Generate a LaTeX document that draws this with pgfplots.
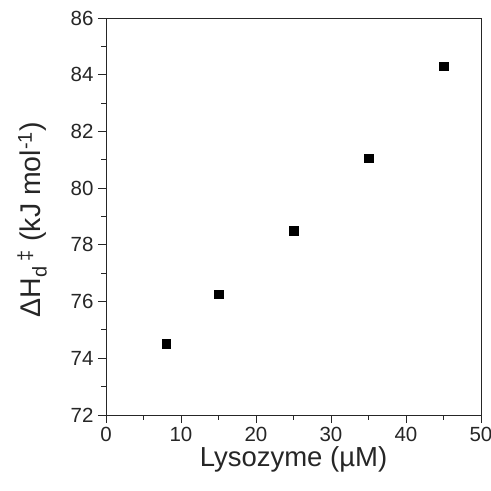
\documentclass[border=0pt]{standalone}
\usepackage{fontspec}
\setmainfont{Liberation Sans}
\usepackage{pgfplots}
\pgfplotsset{compat=1.18}
\begin{document}
\begin{tikzpicture}
\begin{axis}[
  scale only axis,
  width=375bp, height=397bp,
  xmin=0, xmax=50, ymin=72, ymax=86,
  xtick={0,10,...,50}, ytick={72,74,...,86},
  minor xtick={5,15,...,45}, minor ytick={73,75,...,85},
  tick pos=left,
  tick align=outside,
  major tick length=8bp, minor tick length=4.5bp,
  every tick/.style={black!85, line width=0.9bp},
  axis line style={line width=0.9bp, black!85},
  /pgf/number format/assume math mode=true,
  tick label style={font=\fontsize{20.5bp}{23bp}\selectfont, text=black!85},
  xticklabel style={yshift=-1bp},
  yticklabel style={xshift=-1bp},
  xlabel={Lysozyme (µM)},
  ylabel={ΔH\textsubscript{d}\,\textsuperscript{‡} (kJ mol\textsuperscript{-1})},
  label style={font=\fontsize{27.5bp}{31bp}\selectfont, text=black!85},
  xlabel style={at={(axis description cs:0.5,-0.113)}, anchor=center},
  ylabel style={at={(axis description cs:-0.197,0.492)}, anchor=center, font=\fontsize{28.5bp}{32bp}\selectfont},
  clip=false,
]
\addplot[only marks, mark=square*, mark size=4.2bp, black] coordinates {
  (8,74.52) (15,76.25) (25,78.5) (35,81.05) (45,84.31)
};
\end{axis}
\pgfresetboundingbox
\path (-106bp,-76bp) rectangle (385bp,415bp);
\end{tikzpicture}
\end{document}
